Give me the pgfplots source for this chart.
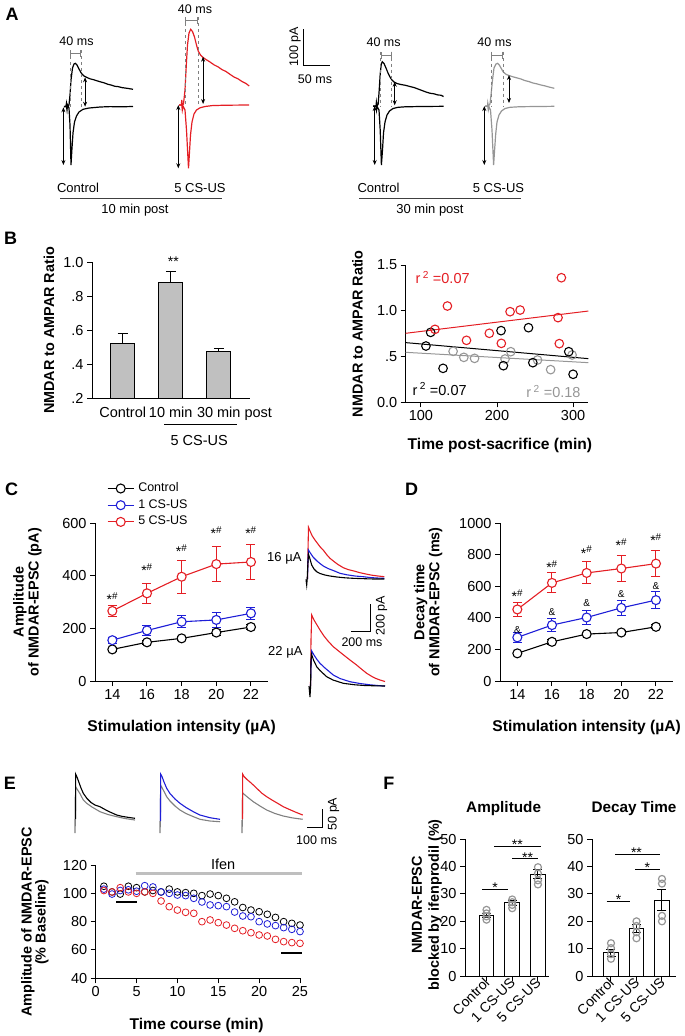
\documentclass[border=0pt]{standalone}
\usepackage{fontspec}
\setmainfont{Liberation Sans}
\usepackage{pgfplots}
\pgfplotsset{compat=1.18}
\usetikzlibrary{arrows.meta}

\definecolor{mred}{RGB}{228,30,36}
\definecolor{mblue}{RGB}{30,30,215}
\definecolor{mgray}{RGB}{150,150,150}
\definecolor{tgray}{RGB}{128,128,128}
\definecolor{bargray}{RGB}{192,192,192}
\newcommand{\fs}[2]{\fontsize{#1}{#2}\selectfont}

\pgfplotsset{
  panel/.style={scale only axis, axis lines=left, axis line style={-, line width=1pt},
    tick align=outside, major tick length=5pt, tick style={black, line width=1pt},
    ticklabel style={font=\fs{14.5}{16}}, label style={align=center},
    xlabel style={font=\bfseries\fs{15.6}{16}}, ylabel style={font=\bfseries\fs{14.4}{15}},
    /pgf/number format/assume math mode=true, /pgf/number format/1000 sep={}, clip=false},
  ser/.style={#1, line width=1.1pt, mark=*, mark size=4.5pt, mark options={fill=white, solid, line width=1.1pt}},
  ebar/.style={forget plot, only marks, mark=none, error bars/.cd, y dir=both, y explicit,
    error bar style={line width=1pt, #1}, error mark options={rotate=90, line width=1pt, mark size=4.5pt, #1}},
  fbar/.style={ybar, bar width=14.5pt, bar shift=0pt, fill=white, draw=black, line width=1pt,
    error bars/.cd, y dir=both, y explicit, error bar style={line width=1pt},
    error mark options={rotate=90, line width=1pt, mark size=4.5pt}},
  fpanel/.style={panel, width=#1, height=136.7pt, ymin=0, ymax=50, ytick={0,10,...,50},
    xtick={0,1,2}, xticklabels={Control,1 CS-US,5 CS-US},
    xticklabel style={rotate=45, anchor=east, xshift=4pt, font=\fs{14}{14}},
    title style={font=\bfseries\fs{15.3}{16}, anchor=center}},
}
\tikzset{
  dar/.style={{Stealth[length=5pt,width=4pt]}-{Stealth[length=5pt,width=4pt]}, line width=0.9pt},
  brk/.style={tgray, line width=1pt, {Bar[width=7pt]}-{Bar[width=7pt]}},
  dsh/.style={tgray, dashed, line width=0.9pt},
  stt/.style={font=\fs{14}{14}, anchor=base, inner sep=0pt},
  sh/.style={font=\fs{14}{14}, yshift=-2.5pt},
}

\begin{document}
\begin{tikzpicture}
\path[use as bounding box] (0pt,0pt) rectangle (685pt,-1036pt);

% ---------- canvas: traces, scale bars, panel letters ----------
\begin{axis}[at={(0pt,0pt)}, anchor=north west, scale only axis, width=685pt, height=1036pt,
  xmin=0, xmax=685, ymin=0, ymax=1036, y dir=reverse, hide axis, clip=false]
\node[font=\bfseries\fs{18}{18}] at (12,14) {A};
\node[font=\bfseries\fs{18}{18}] at (10.5,238.3) {B};
\node[font=\bfseries\fs{18}{18}] at (11.7,489) {C};
\node[font=\bfseries\fs{18}{18}] at (411.7,489.5) {D};
\node[font=\bfseries\fs{18}{18}] at (10,783.3) {E};
\node[font=\bfseries\fs{18}{18}] at (388.8,783) {F};

% A: control 10 min (black)
\addplot[black, line width=1.2pt] coordinates {(64,106.5)(66,106)(66.5,103)(67,106)(69,105)(70,95)(71,80)(72.5,68)(74,64)(75.4,63.3)(77,65)(79,69)(81.2,73)(84,76)(87,77.5)(90,78.8)(94,79.8)(97,80.8)(101,82)(104,82.8)(108,84.3)(111,85)(115,86.3)(118,86.6)(122,87.6)(125,88)(129,88.6)(133,89.3)};
\addplot[black, line width=1.2pt] coordinates {(64,106.8)(66.5,106.8)(67,110)(67.5,105)(69,108)(70,125)(71,165)(72,148)(73,133)(74.5,122)(76.5,116)(79,112)(83,109.3)(89,108)(100,107)(110,106.6)(120,106.8)(133,106.5)};
% A: 5 CS-US 10 min (red)
\addplot[mred, line width=1.2pt] coordinates {(179,105)(181.3,105)(181.8,100)(182.3,105)(183.5,104)(185,90)(186.3,65)(187.5,45)(189,33)(190.7,29.3)(192.5,31.5)(194.5,37)(196.5,45)(198.2,51)(200.5,55)(203,57.5)(206,59.5)(210,62)(214,64.8)(218,66.8)(222,69.6)(226,71.5)(230,74.3)(234,77)(238,78.8)(242,81.5)(246,83.5)(249.2,86)};
\addplot[mred, line width=1.2pt] coordinates {(179,105)(181.8,105)(182.3,110)(183,106)(185,110)(186.5,130)(188.5,168.3)(189.5,152)(190.5,135)(192,122)(194,114)(196.5,110)(200,107.8)(205,106.5)(212,105.6)(225,105.2)(249.2,105)};
% A: control 30 min (black)
\addplot[black, line width=1.2pt] coordinates {(373,106)(376,106)(376.4,102)(377,106)(378.2,104)(379.2,90)(380.2,74)(381.3,64)(382.3,61.7)(384,63.5)(386,68)(388,73)(390,77)(391.6,79.5)(394,82)(397,83.5)(401,84.5)(405,85.2)(410,86.5)(414,87.5)(418,89)(422,90.5)(426,92)(430,93.2)(434,93.8)(438,95)(441,95.2)(443.5,96.5)};
\addplot[black, line width=1.2pt] coordinates {(373,106.3)(376,106.3)(376.5,110)(377,106.5)(379,110)(380.2,130)(381.4,165)(382.5,150)(383.5,133)(385,122)(387,115)(389.5,111)(393,108.5)(398,107.3)(405,106.8)(420,106.5)(443.5,106.3)};
% A: 5 CS-US 30 min (gray)
\addplot[mgray, line width=1.2pt] coordinates {(485,106)(487.5,106)(487.8,103)(488.3,106)(490,104)(491,95)(492.5,80)(494,68)(496,64)(497.6,63.3)(499.3,65)(501,68)(503.3,72)(506,74.3)(509,75.5)(513,76.8)(517,77.9)(521,79)(525,80.6)(529,81.6)(533,83)(537,83.9)(541,85)(545,85.9)(549,87)(554.3,88.3)};
\addplot[mgray, line width=1.2pt] coordinates {(485,106.3)(487.8,106.3)(488.3,110)(489,106.8)(490.5,110)(492,130)(493.6,165)(494.6,150)(495.7,134)(497,122)(499,115)(501.5,111)(505,108.5)(510,107.3)(520,106.7)(554.3,106.3)};
% A: 40 ms markers
\draw[dsh] (70,50) -- (70,106.5);       \draw[dsh] (81.2,50) -- (81.2,106.5);    \draw[brk] (70,53.3) -- (81.2,53.3);
\draw[dsh] (185.4,17) -- (185.4,105);   \draw[dsh] (198.2,17) -- (198.2,105);    \draw[brk] (185.4,20.7) -- (198.2,20.7);
\draw[dsh] (380.5,51.7) -- (380.5,106); \draw[dsh] (391.6,51.7) -- (391.6,106);  \draw[brk] (380.5,55) -- (391.6,55);
\draw[dsh] (491.4,51.7) -- (491.4,106); \draw[dsh] (503.3,51.7) -- (503.3,106);  \draw[brk] (491.4,55) -- (503.3,55);
\node[font=\fs{12.5}{12}] at (76.5,40.7) {40 ms};
\node[font=\fs{12.5}{12}] at (195,9.3) {40 ms};
\node[font=\fs{12.5}{12}] at (383.6,42) {40 ms};
\node[font=\fs{12.5}{12}] at (494.5,42) {40 ms};
% A: amplitude arrows
\draw[dar] (63.4,107.3) -- (63.4,165);   \draw[dar] (85.1,77.3) -- (85.1,106.7);
\draw[dar] (178.3,105) -- (178.3,168.3); \draw[dar] (203.1,56.7) -- (203.1,104);
\draw[dar] (374.7,106) -- (374.7,165);   \draw[dar] (394.7,81.7) -- (394.7,105.3);
\draw[dar] (484.3,106) -- (484.3,165);   \draw[dar] (509,75) -- (509,103);
% A: scale bar
\draw[line width=1pt] (303.8,29.3) -- (303.8,65.7) -- (330.4,65.7);
\node[font=\fs{12.5}{12}, rotate=90] at (295,46.7) {100 pA};
\node[font=\fs{12.5}{12}] at (315,79) {50 ms};
% A: group labels
\node[font=\fs{13}{13}] at (78,187.7) {Control};
\node[font=\fs{13}{13}] at (200,187.7) {5 CS-US};
\node[font=\fs{13}{13}] at (378.5,187.7) {Control};
\node[font=\fs{13}{13}] at (498.5,187.7) {5 CS-US};
\draw[black!75, line width=1.6pt] (60,198.3) -- (222,198.3);
\draw[black!75, line width=1.6pt] (359,198.3) -- (521,198.3);
\node[font=\fs{13}{13}] at (135,210) {10 min post};
\node[font=\fs{13}{13}] at (430,210) {30 min post};

% B annotations
\node[sh] at (173.3,259) {**};
\draw[line width=1pt] (164,424) -- (237,424);
\node[font=\fs{14.5}{14}] at (199.2,440) {5 CS-US};
\node[mred, font=\fs{14.5}{14}, anchor=west] at (412,277.7) {r\,\textsuperscript{2} =0.07};
\node[black, font=\fs{14.5}{14}, anchor=west] at (409,389) {r\,\textsuperscript{2} =0.07};
\node[mgray, font=\fs{14.5}{14}, anchor=east] at (584,391.7) {r\,\textsuperscript{2} =0.18};

% C: example traces 16 and 22 uA
\addplot[mred, line width=1.1pt] coordinates {(307.5,579)(308,550)(308.5,527.3)(310,531)(312,535.5)(315,540)(318,544)(320,546.7)(324,551)(327,555)(330,558.3)(334,561.5)(338,564.5)(343.3,567.7)(348,569.5)(354,571)(360,572.7)(366,574)(372,575.2)(378,576)(384.3,576.7)};
\addplot[mblue, line width=1.1pt] coordinates {(307.5,579)(308,560)(308.5,550)(310,552.5)(313.3,557.3)(317,561)(320,563.5)(323.3,566)(328,568.5)(334,570.8)(340,573.3)(347,574.8)(355,576)(363.3,576.7)(370,577.5)(377,578)(384.3,578.3)};
\addplot[black, line width=1.1pt] coordinates {(306,579.3)(306.7,585)(307.2,579)(307.8,565)(308.5,554.3)(310,559)(311.7,565)(314,569)(316.7,571.7)(320,573.5)(325,575)(330,576)(337,577)(345,577.8)(353.3,578.3)(362,578.6)(370,578.9)(377,579)(384.3,579)};
\addplot[mred, line width=1.1pt] coordinates {(310.5,686)(311,640)(311.7,615)(314,620)(317,625)(320,630)(324,636)(328,641)(333.3,646.7)(338,650.5)(343,654.5)(350,660)(356,664.5)(362,669.5)(366.7,673.3)(372,676.5)(376,678.5)(380,680)(385,681.5)};
\addplot[mblue, line width=1.1pt] coordinates {(310.5,686)(311,665)(311.7,651)(314,655)(317,659.5)(320,663.3)(325,668)(333.3,675)(340,678.5)(350,681.7)(360,683.5)(370,684.8)(380,685.7)(385,686)};
\addplot[black, line width=1.1pt] coordinates {(309,686)(310,697)(310.6,686)(311,662)(311.5,654)(313.5,660)(316.7,666.7)(320,670.5)(326.7,676.7)(333,680)(343.3,683.3)(355,684.8)(365,685.5)(375,685.8)(385,686)};
\node[font=\fs{13}{13}, anchor=east] at (305,558) {16 µA};
\node[font=\fs{13}{13}, anchor=east] at (306,652.7) {22 µA};
\draw[line width=1pt] (370,604) -- (370,631.7) -- (350.7,631.7);
\node[font=\fs{12.5}{12}, rotate=90] at (381.5,616) {200 pA};
\node[font=\fs{12.5}{12}] at (362,642) {200 ms};

% E: example traces
\addplot[tgray, line width=1.1pt] coordinates {(75,819)(75,833)(75.4,819)(75.6,786.7)(78,790.5)(80,793.7)(83.3,800)(87,803.5)(92,807)(100,811.7)(108,814.5)(116,816.5)(125,818.5)(135,820)};
\addplot[black, line width=1.1pt] coordinates {(75.5,819)(75.6,774)(77,777)(79,782.5)(81,788)(83.3,793.3)(87,798.5)(91,802.5)(95,805)(100,806.7)(105,809.5)(110,812)(116.7,815)(122,816.3)(128,817.3)(135,818.3)};
\addplot[tgray, line width=1.1pt] coordinates {(160,821)(160,833)(160.4,821)(160.6,785)(163,789.5)(166.7,796.7)(170,801)(175,806)(180,810)(186,813.5)(193,816.5)(200,819.3)(210,821)(220,821.7)};
\addplot[mblue, line width=1.1pt] coordinates {(160.5,821)(160.6,774)(162,776.5)(164,782)(166.7,788.3)(170,793.5)(175,799)(180,803.3)(186,807.5)(193,811.5)(200,815)(210,817.7)(220,819.3)};
\addplot[tgray, line width=1.1pt] coordinates {(242,820)(242,833)(242.4,820)(242.6,792.7)(245,795)(248,797.5)(253.3,801.7)(260,806)(266.7,810)(275,813.5)(283.3,816)(292,817.8)(302.7,819.3)};
\addplot[mred, line width=1.1pt] coordinates {(242.5,819)(242.6,774)(244,776.5)(247,779.5)(250,782)(253.3,785)(258,789.5)(262,793.3)(266.7,796.7)(272,800)(278,803.5)(283.3,806.7)(290,809.7)(296,812.3)(302.7,815)};
\draw[line width=1pt] (322.7,809.3) -- (322.7,827.3) -- (307.3,827.3);
\node[font=\fs{12.5}{12}, rotate=90] at (333.5,814) {50 pA};
\node[font=\fs{12.5}{12}] at (316.7,840) {100 ms};
\end{axis}

% ---------- B: bar chart ----------
\begin{axis}[panel, clip=true, at={(92pt,-398.7pt)}, anchor=south west, width=158pt, height=136.4pt,
  xmin=-0.64, xmax=2.65, ymin=0.2, ymax=1.0,
  ytick={0.2,0.4,0.6,0.8,1.0}, yticklabels={.2,.4,.6,.8,1.0},
  xtick={0,1,2}, xticklabels={Control,10 min,{30 min\rlap{ post}}}, xtick style={draw=none},
  ylabel={NMDAR to AMPAR Ratio}, ylabel style={at={(axis description cs:-0.272,0.5)}, anchor=center}]
\addplot[ybar, bar width=24pt, bar shift=0pt, fill=bargray, draw=black, line width=1pt,
  error bars/.cd, y dir=plus, y explicit, error bar style={line width=1pt},
  error mark options={rotate=90, line width=1pt, mark size=5pt}]
  coordinates {(0,0.523) +- (0,0.058) (1,0.880) +- (0,0.069) (2,0.478) +- (0,0.019)};
\end{axis}

% ---------- B: scatter ----------
\begin{axis}[panel, at={(405.7pt,-402.3pt)}, anchor=south west, width=182.6pt, height=137.3pt,
  xmin=80, xmax=320, ymin=0, ymax=1.5, xtick={100,200,300},
  ytick={0,0.5,1,1.5}, yticklabels={0.0,.5,1.0,1.5},
  xlabel={Time post-sacrifice (min)}, xlabel style={at={(axis description cs:0.516,-0.311)}, anchor=center},
  ylabel={NMDAR to AMPAR Ratio}, ylabel style={at={(axis description cs:-0.264,0.5)}, anchor=center}]
\addplot[mred, line width=1pt] coordinates {(80,0.754)(320,0.997)};
\addplot[black, line width=1pt] coordinates {(80,0.652)(320,0.477)};
\addplot[mgray, line width=1pt] coordinates {(80,0.546)(320,0.433)};
\addplot[mgray, only marks, mark=o, mark size=4.3pt, line width=1.1pt] coordinates {(142.3,0.557)(156.4,0.491)(170.5,0.480)(210.6,0.473)(218.1,0.553)(253.3,0.462)(270.5,0.357)(298.7,0.517)};
\addplot[black, only marks, mark=o, mark size=4.3pt, line width=1.1pt] coordinates {(112.8,0.764)(106.6,0.615)(129.1,0.371)(205.3,0.783)(208.4,0.400)(241.4,0.815)(247.1,0.433)(294.3,0.553)(300.0,0.306)};
\addplot[mred, only marks, mark=o, mark size=4.3pt, line width=1.1pt] coordinates {(118.5,0.797)(134.8,1.052)(159.9,0.677)(189.9,0.754)(205.7,0.644)(217.2,0.990)(230.4,1.008)(280.2,0.925)(284.6,1.361)(281.9,0.641)};
\end{axis}

% ---------- C: amplitude vs intensity ----------
\begin{axis}[panel, at={(95pt,-681pt)}, anchor=south west, width=173.3pt, height=158pt,
  xmin=13, xmax=23, ymin=0, ymax=600, xtick={14,16,...,22}, ytick={0,200,400,600},
  xlabel={Stimulation intensity (µA)}, xlabel style={at={(axis description cs:0.5,-0.296)}, anchor=center},
  ylabel={Amplitude\\of NMDAR-EPSC (pA)}, ylabel style={at={(axis description cs:-0.39,0.5)}, anchor=center},
  legend style={at={(axis description cs:0.069,1.264)}, anchor=north west, draw=none, fill=none,
    font=\fs{12.5}{13}, inner sep=0pt, row sep=2.7pt, column sep=3pt, nodes={inner sep=1pt, text height=9pt, text depth=3pt},
    cells={anchor=west}},
  legend image code/.code={\draw[mark repeat=2, mark phase=2, #1] plot coordinates {(0pt,0pt) (13pt,0pt) (26pt,0pt)};}]
\addplot[ebar=black] coordinates {(14,120)+-(0,8) (16,147)+-(0,8) (18,162)+-(0,8) (20,184)+-(0,10) (22,205)+-(0,10)};
\addplot[ebar=mblue] coordinates {(14,155)+-(0,12) (16,192)+-(0,20) (18,225)+-(0,22) (20,232)+-(0,28) (22,257)+-(0,24)};
\addplot[ebar=mred] coordinates {(14,266)+-(0,22) (16,333)+-(0,37) (18,396)+-(0,62) (20,444)+-(0,65) (22,452)+-(0,68)};
\addplot[ser=black] coordinates {(14,120)(16,147)(18,162)(20,184)(22,205)};
\addlegendentry{Control}
\addplot[ser=mblue] coordinates {(14,155)(16,192)(18,225)(20,232)(22,257)};
\addlegendentry{1 CS-US}
\addplot[ser=mred] coordinates {(14,266)(16,333)(18,396)(20,444)(22,452)};
\addlegendentry{5 CS-US}
\node[sh] at (axis cs:14,322) {*\textsuperscript{\#}};
\node[sh] at (axis cs:16,432) {*\textsuperscript{\#}};
\node[sh] at (axis cs:18,505) {*\textsuperscript{\#}};
\node[sh] at (axis cs:20,573) {*\textsuperscript{\#}};
\node[sh] at (axis cs:22,573) {*\textsuperscript{\#}};
\end{axis}

% ---------- D: decay time vs intensity ----------
\begin{axis}[panel, at={(500pt,-681pt)}, anchor=south west, width=173.3pt, height=158pt,
  xmin=13, xmax=23, ymin=0, ymax=1000, xtick={14,16,...,22}, ytick={0,200,...,1000},
  xlabel={Stimulation intensity (µA)}, xlabel style={at={(axis description cs:0.5,-0.296)}, anchor=center},
  ylabel={Decay time\\of NMDAR-EPSC (ms)}, ylabel style={at={(axis description cs:-0.414,0.5)}, anchor=center}]
\addplot[ebar=black] coordinates {(14,175)+-(0,10) (16,248)+-(0,15) (18,297)+-(0,12) (20,307)+-(0,12) (22,343)+-(0,12)};
\addplot[ebar=mblue] coordinates {(14,276)+-(0,32) (16,354)+-(0,42) (18,402)+-(0,44) (20,463)+-(0,47) (22,512)+-(0,53)};
\addplot[ebar=mred] coordinates {(14,453)+-(0,45) (16,621)+-(0,63) (18,684)+-(0,70) (20,712)+-(0,85) (22,743)+-(0,84)};
\addplot[ser=black] coordinates {(14,175)(16,248)(18,297)(20,307)(22,343)};
\addplot[ser=mblue] coordinates {(14,276)(16,354)(18,402)(20,463)(22,512)};
\addplot[ser=mred] coordinates {(14,453)(16,621)(18,684)(20,712)(22,743)};
\node[sh] at (axis cs:14,554) {*\textsuperscript{\#}};
\node[sh] at (axis cs:16,739) {*\textsuperscript{\#}};
\node[sh] at (axis cs:18,832) {*\textsuperscript{\#}};
\node[sh] at (axis cs:20,880) {*\textsuperscript{\#}};
\node[sh] at (axis cs:22,911) {*\textsuperscript{\#}};
\node[font=\fs{10}{10}] at (axis cs:14,322) {\&};
\node[font=\fs{10}{10}] at (axis cs:16,434) {\&};
\node[font=\fs{10}{10}] at (axis cs:18,495) {\&};
\node[font=\fs{10}{10}] at (axis cs:20,550) {\&};
\node[font=\fs{10}{10}] at (axis cs:22,600) {\&};
\end{axis}

% ---------- E: time course ----------
\begin{axis}[panel, at={(95.7pt,-978.3pt)}, anchor=south west, width=204.3pt, height=113.3pt,
  xmin=0, xmax=25, ymin=40, ymax=120, xtick={0,5,...,25}, ytick={40,60,...,120},
  xlabel={Time course (min)}, xlabel style={at={(axis description cs:0.494,-0.412)}, anchor=center},
  ylabel={Amplitude of NMDAR-EPSC\\(\% Baseline)}, ylabel style={font=\bfseries\fs{14.4}{14}, at={(axis description cs:-0.298,0.497)}, anchor=center}]
\addplot[black, only marks, mark=o, mark size=3.4pt, line width=0.8pt] coordinates {(1,105)(2,101)(3,99.5)(4,105)(5,104)(6,101)(7,102)(8,101)(9,103)(10,101)(11,100.5)(12,100)(13,98.4)(14,99.5)(15,98.4)(16,96.5)(17,94)(18,90)(19,88.2)(20,87)(21,85.2)(22,83)(23,80)(24,78.8)(25,77.6)};
\addplot[mblue, only marks, mark=o, mark size=3.4pt, line width=0.8pt] coordinates {(1,103)(2,99.5)(3,102)(4,102.5)(5,101.5)(6,105.4)(7,104.5)(8,101)(9,100)(10,98.8)(11,98.4)(12,96.5)(13,93.9)(14,91.8)(15,91.3)(16,90.6)(17,86.8)(18,84)(19,83.5)(20,80)(21,78.4)(22,77.2)(23,75.8)(24,74.6)(25,73)};
\addplot[mred, only marks, mark=o, mark size=3.4pt, line width=0.8pt] coordinates {(1,102)(2,101)(3,104)(4,101)(5,100)(6,101)(7,100)(8,94.6)(9,90.6)(10,88.2)(11,86.6)(12,85.9)(13,80)(14,81.2)(15,79.3)(16,77.6)(17,75.3)(18,73.6)(19,72.2)(20,70.6)(21,69.9)(22,67.5)(23,65.9)(24,65.2)(25,64.7)};
\draw[black!25, line width=3pt] (axis cs:4.9,113.9) -- (axis cs:25.2,113.9);
\node[font=\fs{14.5}{14}] at (axis cs:15.6,120.3) {Ifen};
\draw[black, line width=2pt] (axis cs:2.5,93.6) -- (axis cs:5.0,93.6);
\draw[black, line width=2pt] (axis cs:22.7,57.6) -- (axis cs:25.2,57.6);
\end{axis}

% ---------- F: amplitude block ----------
\begin{axis}[fpanel=84pt, at={(465pt,-976pt)}, anchor=south west, xmin=-0.835, xmax=2.43,
  title={Amplitude}, title style={at={(axis description cs:0.46,1.183)}},
  ylabel={NMDAR-EPSC\\blocked by ifenprodil (\%)}, ylabel style={font=\bfseries\fs{14.4}{17}, at={(axis description cs:-0.453,0.52)}, anchor=center}]
\addplot[fbar] coordinates {(0,22.2)+-(0,0.8) (1,26.8)+-(0,0.9) (2,37.3)+-(0,1.8)};
\addplot[mgray, only marks, mark=o, mark size=3.5pt, line width=1.2pt] coordinates {(0,24.2)(0,22.9)(0,21.8)(0,20.6)(1,28.0)(1,27.0)(1,26.0)(1,24.8)(2,39.8)(2,37.5)(2,35.0)(2,33.5)};
\draw[line width=1pt] (axis cs:-0.16,31.8) -- (axis cs:0.84,31.8);
\node[stt] at (axis cs:0.33,30.7) {*};
\draw[line width=1pt] (axis cs:0.3,47.3) -- (axis cs:2.13,47.3);
\node[stt] at (axis cs:1.2,46.2) {**};
\draw[line width=1pt] (axis cs:1.0,42.8) -- (axis cs:2.0,42.8);
\node[stt] at (axis cs:1.6,41.7) {**};
\end{axis}

% ---------- F: decay block ----------
\begin{axis}[fpanel=84pt, at={(592pt,-976pt)}, anchor=south west, xmin=-0.745, xmax=2.55,
  title={Decay Time}, title style={at={(axis description cs:0.5,1.183)}}]
\addplot[fbar] coordinates {(0,8.5)+-(0,1.3) (1,17.4)+-(0,1.5) (2,27.8)+-(0,4.0)};
\addplot[mgray, only marks, mark=o, mark size=3.5pt, line width=1.2pt] coordinates {(0,12.0)(0,10.2)(0,8.0)(0,6.3)(1,20.0)(1,18.3)(1,16.0)(1,13.8)(2,35.5)(2,33.8)(2,22.0)(2,20.0)};
\draw[line width=1pt] (axis cs:-0.17,27.2) -- (axis cs:0.75,27.2);
\node[stt] at (axis cs:0.3,26.1) {*};
\draw[line width=1pt] (axis cs:0.16,44.5) -- (axis cs:1.91,44.5);
\node[stt] at (axis cs:1.0,43.4) {**};
\draw[line width=1pt] (axis cs:0.95,39.0) -- (axis cs:1.91,39.0);
\node[stt] at (axis cs:1.43,37.9) {*};
\end{axis}
\end{tikzpicture}
\end{document}
